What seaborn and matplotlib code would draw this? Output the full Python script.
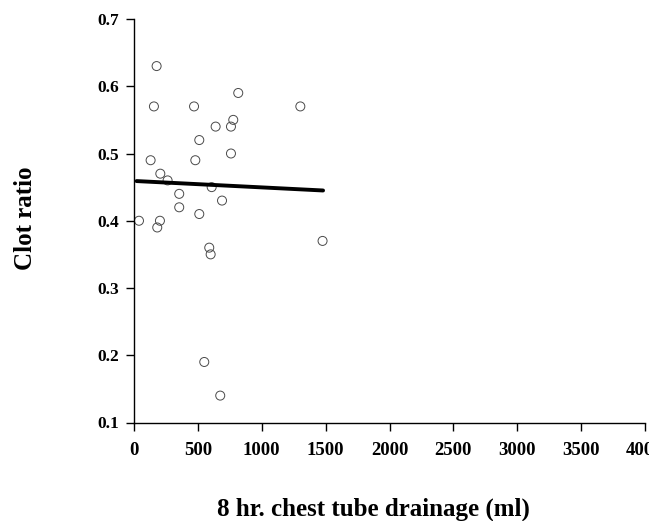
import numpy as np
import pandas as pd
import matplotlib.pyplot as plt
import seaborn as sns

# ── data ─────────────────────────────────────────────────────────────────────
drainage = [39, 203, 182, 354, 511, 589, 600, 1476, 550, 675,
            177, 156, 470, 816, 1302, 777, 639, 759, 511, 759,
            130, 480, 206, 263, 608, 354, 689]
clot_ratio = [0.40, 0.40, 0.39, 0.42, 0.41, 0.36, 0.35, 0.37, 0.19, 0.14,
              0.63, 0.57, 0.57, 0.59, 0.57, 0.55, 0.54, 0.54, 0.52, 0.50,
              0.49, 0.49, 0.47, 0.46, 0.45, 0.44, 0.43]

# regression line endpoints as drawn in the figure
fit_x = [20, 1480]
fit_y = [0.459, 0.445]

x_ticks = [0, 500, 1000, 1500, 2000, 2500, 3000, 3500, 4000]
y_ticks = [0.1, 0.2, 0.3, 0.4, 0.5, 0.6, 0.7]

df = pd.DataFrame({"drainage": drainage, "clot": clot_ratio})
fit = pd.DataFrame({"drainage": fit_x, "clot": fit_y})

sns.set_style("ticks")
plt.rcParams["font.family"] = ["Liberation Serif", "DejaVu Serif"]
plt.rcParams.update({"text.color": "black", "axes.labelcolor": "black",
                     "xtick.color": "black", "ytick.color": "black",
                     "xtick.labelcolor": "black", "ytick.labelcolor": "black"})

fig = plt.figure(figsize=(6.49, 5.21), dpi=100)
ax = fig.add_axes([134 / 649, 1 - 422.5 / 521, 511 / 649, 403.5 / 521])

sns.scatterplot(data=df, x="drainage", y="clot", ax=ax, s=42,
                facecolor="none", edgecolor="#4a4a4a", linewidth=0.7, legend=False)
sns.lineplot(data=fit, x="drainage", y="clot", ax=ax, color="black", linewidth=2.8)

ax.set_xlim(0, 4000)
ax.set_ylim(0.1, 0.7)
ax.set_xticks(x_ticks)
ax.set_yticks(y_ticks)
ax.set_xticklabels([str(t) for t in x_ticks], fontweight="bold", fontsize=13.5)
ax.set_yticklabels([f"{t:.1f}" for t in y_ticks], fontweight="bold", fontsize=12.5)
ax.tick_params(axis="both", length=6, width=1, color="black", labelcolor="black")
ax.tick_params(axis="x", pad=8)
ax.tick_params(axis="y", pad=5)

for side in ["top", "right"]:
    ax.spines[side].set_visible(False)
for side in ["left", "bottom"]:
    ax.spines[side].set_color("black")
    ax.spines[side].set_linewidth(1)

ax.set_xlabel("8 hr. chest tube drainage (ml)", fontweight="bold", fontsize=18, color="black")
ax.set_ylabel("Clot ratio", fontweight="bold", fontsize=18, color="black")
ax.xaxis.set_label_coords(0.468, -0.186)
ax.yaxis.set_label_coords(-0.19, 0.507)

fig.savefig("out.png", dpi=100)
